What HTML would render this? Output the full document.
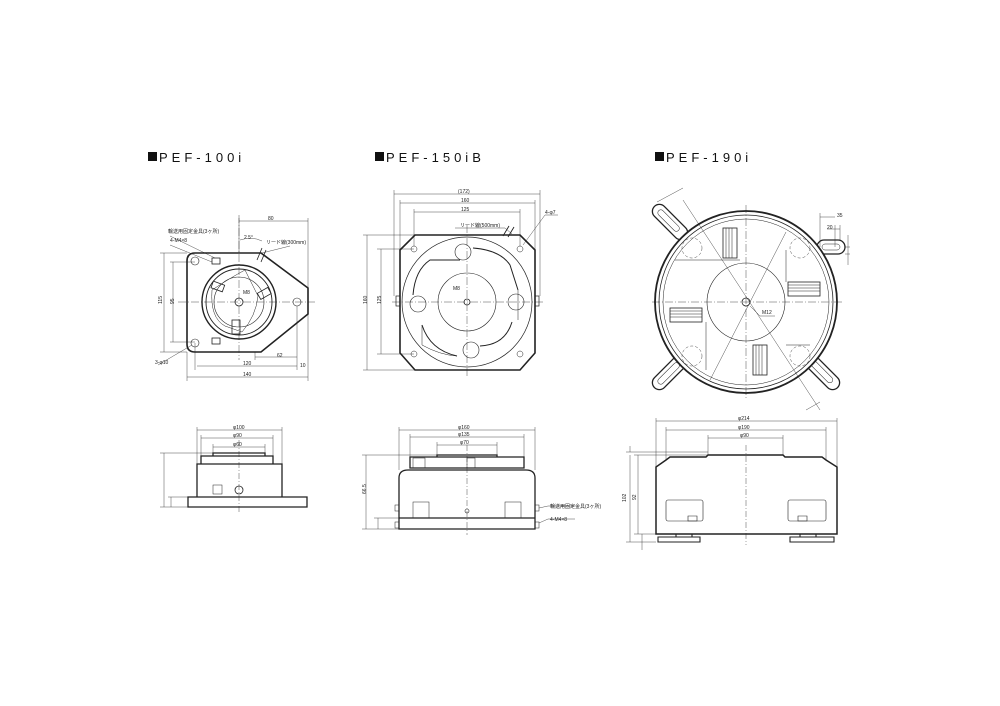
<!DOCTYPE html>
<html><head><meta charset="utf-8"><style>
html,body{margin:0;padding:0;background:#fff;}
svg{display:block}
text{font-family:"Liberation Sans","Noto Sans CJK JP",sans-serif;fill:#222}
.t{font-size:13px;letter-spacing:4px;fill:#111}
.s{font-size:5px}
</style></head><body>
<svg width="1000" height="706" viewBox="0 0 1000 706" xmlns="http://www.w3.org/2000/svg">
<rect width="1000" height="706" fill="#fff"/>
<rect x="148" y="152" width="9" height="9" fill="#111"/><text class="t" x="159" y="162">PEF-100i</text>
<rect x="375" y="152" width="9" height="9" fill="#111"/><text class="t" x="386" y="162">PEF-150iB</text>
<rect x="655" y="152" width="9" height="9" fill="#111"/><text class="t" x="666" y="162">PEF-190i</text>

<g fill="none" stroke="#222">
<!-- ===== PEF-100i top ===== -->
<path d="M195 253 H261 L308 288 V314 L261 352 H195 Q187 352 187 344 V261 Q187 253 195 253 Z" stroke-width="1.6"/>
<circle cx="239" cy="302" r="37" stroke-width="1.4"/>
<circle cx="239" cy="302" r="33" stroke-width="0.9"/>
<circle cx="239" cy="302" r="25" stroke-width="0.6"/>
<circle cx="239" cy="302" r="4" stroke-width="0.8"/>
<circle cx="195" cy="261" r="4" stroke-width="0.6"/>
<circle cx="195" cy="343" r="4" stroke-width="0.6"/>
<circle cx="297" cy="302" r="4" stroke-width="0.6"/>
<path d="M212 290 Q230 278 245 270 L258 296 Q256 316 242 332 L225 326 Q210 318 212 290Z" stroke-width="0.5"/>
<rect x="212" y="283" width="12" height="7" stroke-width="0.8" transform="rotate(20 218 286)"/>
<rect x="258" y="290" width="12" height="7" stroke-width="0.8" transform="rotate(-30 264 293)"/>
<rect x="232" y="320" width="8" height="14" stroke-width="0.8"/>
<rect x="212" y="258" width="8" height="6" stroke-width="0.8"/>
<rect x="212" y="338" width="8" height="6" stroke-width="0.8"/>
<path d="M257 260 L262 248 M261 262 L266 250" stroke-width="0.8"/>
<g stroke-width="0.4" stroke-dasharray="8 2 1 2"><path d="M178 302 H315 M239 215 V360"/></g>
<g stroke-width="0.4">
<path d="M239 253 V218 M308 288 V218 M239 221 H308"/>
<path d="M187 253 H160 M187 352 H160 M164 253 V352 M195 262 H170 M195 342 H170 M173 262 V342"/>
<path d="M195 343 V370 M297 306 V370 M197 366 H297 M187 352 V381 M308 314 V381 M187 377 H308 M255 352 V360 M255 357 H297"/>
<path d="M170 236 L215 258 M170 245 L212 262 M158 365 L192 345 M262 253 L290 246 M240 240 Q252 236 262 241"/>
</g>
<!-- ===== PEF-100i side ===== -->
<path d="M213 456 V453 H265 V456 M201 456 H273 V464 H201 Z M197 464 H282 V497 H197 Z M188 497 H307 V507 H188 Z" stroke-width="1.3"/>
<circle cx="239" cy="490" r="4" stroke-width="0.8"/>
<rect x="213" y="485" width="9" height="9" stroke-width="0.5"/>
<g stroke-width="0.4">
<path d="M239 440 V512" stroke-dasharray="6 2 1 2"/>
<path d="M197 464 V427 M282 464 V427 M197 430 H282 M201 456 V435 M273 456 V435 M201 438 H273 M213 453 V444 M265 453 V444 M213 447 H265"/>
<path d="M213 453 H160 M188 507 H160 M164 453 V507 M188 497 H168 M171 497 V507"/>
</g>

<!-- ===== PEF-150iB top ===== -->
<path d="M415 235 H520 L535 250 V353 L520 370 H415 L400 353 V250 Z" stroke-width="1.6"/>
<circle cx="467" cy="302" r="65" stroke-width="0.7"/>
<circle cx="467" cy="302" r="29" stroke-width="0.6"/>
<circle cx="467" cy="302" r="3" stroke-width="0.8"/>
<circle cx="414" cy="249" r="3" stroke-width="0.5"/><circle cx="520" cy="249" r="3" stroke-width="0.5"/>
<circle cx="414" cy="354" r="3" stroke-width="0.5"/><circle cx="520" cy="354" r="3" stroke-width="0.5"/>
<path d="M473 248 Q500 250 510 265 L518 290 M512 322 Q505 345 480 346 M457 356 Q430 350 422 325 M413 295 Q415 270 430 260 H460" stroke-width="1"/>
<path d="M422 325 V345 Q440 355 457 356 M518 290 V320" stroke-width="0.5"/>
<circle cx="463" cy="252" r="8" stroke-width="0.6"/><circle cx="516" cy="302" r="8" stroke-width="0.6"/>
<circle cx="471" cy="350" r="8" stroke-width="0.6"/><circle cx="418" cy="304" r="8" stroke-width="0.6"/>
<rect x="396" y="296" width="4" height="10" stroke-width="0.7"/><rect x="535" y="296" width="4" height="10" stroke-width="0.7"/>
<path d="M503 236 L509 226 M508 237 L514 227" stroke-width="0.9"/>
<g stroke-width="0.4" stroke-dasharray="8 2 1 2"><path d="M392 302 H545 M467 225 V378"/></g>
<g stroke-width="0.4">
<path d="M394 296 V190 M540 296 V190 M394 194 H540 M400 250 V200 M535 250 V200 M400 203 H535 M414 246 V209 M520 246 V209 M414 212 H520"/>
<path d="M415 235 H363 M415 370 H363 M367 235 V370 M414 249 H377 M414 354 H377 M381 249 V354"/>
<path d="M523 245 L545 215 H558 M455 228 H505 L512 234"/>
</g>
<!-- ===== PEF-150iB side ===== -->
<path d="M437 457 V455 H497 V457 M410 457 H524 V468 H410 Z M408 470 H526 Q535 470 535 478 V529 H399 V478 Q399 470 408 470 Z M399 518 H535" stroke-width="1.3"/>
<rect x="413" y="458" width="12" height="10" stroke-width="0.5"/><rect x="467" y="458" width="8" height="10" stroke-width="0.5"/>
<rect x="413" y="502" width="16" height="16" stroke-width="0.5"/><rect x="505" y="502" width="16" height="16" stroke-width="0.5"/>
<rect x="395" y="505" width="4" height="6" stroke-width="0.5"/><rect x="395" y="522" width="4" height="6" stroke-width="0.5"/>
<rect x="535" y="505" width="4" height="6" stroke-width="0.5"/><rect x="535" y="522" width="4" height="6" stroke-width="0.5"/>
<circle cx="467" cy="511" r="2" stroke-width="0.6"/>
<g stroke-width="0.4">
<path d="M467 445 V535" stroke-dasharray="6 2 1 2"/>
<path d="M399 470 V427 M535 470 V427 M399 430 H535 M410 457 V434 M524 457 V434 M410 437 H524 M437 455 V442 M497 455 V442 M437 445 H497"/>
<path d="M437 455 H362 M399 529 H362 M366 455 V529 M399 518 H374 M378 518 V529"/>
<path d="M539 508 L548 506 H575 M539 523 L548 519 H575"/>
</g>

<!-- ===== PEF-190i top ===== -->
<g stroke-width="1.3">
<rect x="648" y="215" width="44" height="14" rx="7" transform="rotate(45 670 222)" fill="#fff"/>
<rect x="648" y="365" width="44" height="14" rx="7" transform="rotate(-45 670 372)" fill="#fff"/>
<rect x="800" y="365" width="44" height="14" rx="7" transform="rotate(45 822 372)" fill="#fff"/>
<rect x="817" y="240" width="28" height="14" rx="7" fill="#fff"/>
</g>
<g stroke-width="0.5">
<rect x="654" y="219" width="28" height="6" rx="3" transform="rotate(45 670 222)"/>
<rect x="654" y="369" width="28" height="6" rx="3" transform="rotate(-45 670 372)"/>
<rect x="808" y="369" width="28" height="6" rx="3" transform="rotate(45 822 372)"/>
<rect x="822" y="244" width="18" height="6" rx="3"/>
</g>
<circle cx="746" cy="302" r="91" stroke-width="1.8" fill="#fff"/>
<circle cx="746" cy="302" r="87" stroke-width="0.8"/>
<circle cx="746" cy="302" r="83" stroke-width="0.5"/>
<circle cx="746" cy="302" r="39" stroke-width="0.6"/>
<circle cx="746" cy="302" r="4" stroke-width="0.8"/>
<g stroke-width="0.4" stroke-dasharray="3 2">
<circle cx="692" cy="248" r="10"/><circle cx="800" cy="248" r="10"/><circle cx="692" cy="356" r="10"/><circle cx="800" cy="356" r="10"/>
</g>
<g stroke-width="0.8">
<rect x="723" y="228" width="14" height="30"/><rect x="753" y="345" width="14" height="30"/>
<rect x="670" y="308" width="32" height="14"/><rect x="788" y="282" width="32" height="14"/>
</g>
<g stroke-width="0.5">
<path d="M726 228 V258 M729 228 V258 M732 228 V258 M756 345 V375 M759 345 V375 M762 345 V375 M670 311 H702 M670 314 H702 M670 317 H702 M788 285 H820 M788 288 H820 M788 291 H820"/>
</g>
<path d="M675 260 H740 M706 322 V370 M786 250 V282 M786 345 H810" stroke-width="0.5"/>
<g stroke-width="0.4" stroke-dasharray="8 2 1 2"><path d="M652 302 H842 M746 205 V398"/></g>
<g stroke-width="0.4">
<path d="M683 200 L820 410 M786 232 L710 380 M657 202 L683 188 M806 410 L820 402"/>
<path d="M820 247 V213 M835 247 V225 M820 217 H835 M827 229 H840 M840 240 V225 M845 247 H850 M845 254 H850 M848 235 V265"/>
<path d="M750 306 L760 316 H775"/>
</g>
<!-- ===== PEF-190i side ===== -->
<path d="M708 455 H783 L785 457 H822 L826 460 L837 467 V534 H656 V467 L666 460 L670 457 H706 Z" stroke-width="1.5"/>
<path d="M658 537 H700 V542 H658 Z M790 537 H834 V542 H790 Z M676 534 V537 M692 534 V537 M800 534 V537 M816 534 V537" stroke-width="1.1"/>
<rect x="666" y="500" width="37" height="21" rx="2" stroke-width="0.6"/>
<rect x="788" y="500" width="38" height="21" rx="2" stroke-width="0.6"/>
<path d="M688 516 h9 v5 h-9z M798 516 h9 v5 h-9z" stroke-width="0.6"/>
<g stroke-width="0.4">
<path d="M746 445 V545" stroke-dasharray="6 2 1 2"/>
<path d="M656 467 V418 M837 467 V418 M656 421 H837 M666 460 V427 M826 460 V427 M666 430 H826 M708 455 V435 M783 455 V435 M708 438 H783"/>
<path d="M708 452 H626 M708 455 H634 M656 542 H626 M656 534 H634 M630 455 V542 M638 455 V534 M642 534 V550 M630 446 V452"/>
</g>
</g>

<g class="s">
<text x="268" y="220">80</text><text x="244" y="239">2 5°</text><text x="266" y="244">リード線(300mm)</text>
<text x="168" y="233">輸送用固定金具(3ヶ所)</text><text x="170" y="242">4-M4×8</text>
<text x="158" y="304" transform="rotate(-90 160 302)">115</text><text x="170" y="304" transform="rotate(-90 172 302)">95</text>
<text x="243" y="294">M8</text><text x="277" y="357">62</text><text x="243" y="365">120</text><text x="300" y="367">10</text><text x="243" y="376">140</text>
<text x="155" y="364">3-φ10</text>
<text x="233" y="429">φ100</text><text x="233" y="437">φ90</text><text x="233" y="446">φ60</text>
<text x="458" y="193">(172)</text><text x="461" y="202">160</text><text x="461" y="211">125</text>
<text x="460" y="227">リード線(500mm)</text><text x="545" y="214">4-φ7</text>
<text x="361" y="306" transform="rotate(-90 363 302)">160</text><text x="375" y="306" transform="rotate(-90 377 302)">125</text>
<text x="453" y="290">M8</text>
<text x="458" y="429">φ160</text><text x="458" y="436">φ135</text><text x="460" y="444">φ70</text>
<text x="550" y="508">輸送用固定金具(3ヶ所)</text><text x="550" y="521">4-M4×8</text>
<text x="360" y="496" transform="rotate(-90 362 492)">66.5</text>
<text x="837" y="217">35</text><text x="827" y="229">20</text><text x="762" y="314">M12</text>
<text x="738" y="420">φ214</text><text x="738" y="429">φ190</text><text x="740" y="437">φ90</text>
<text x="620" y="500" transform="rotate(-90 624 498)">102</text><text x="630" y="498" transform="rotate(-90 634 496)">92</text>
</g>
</svg>
</body></html>
